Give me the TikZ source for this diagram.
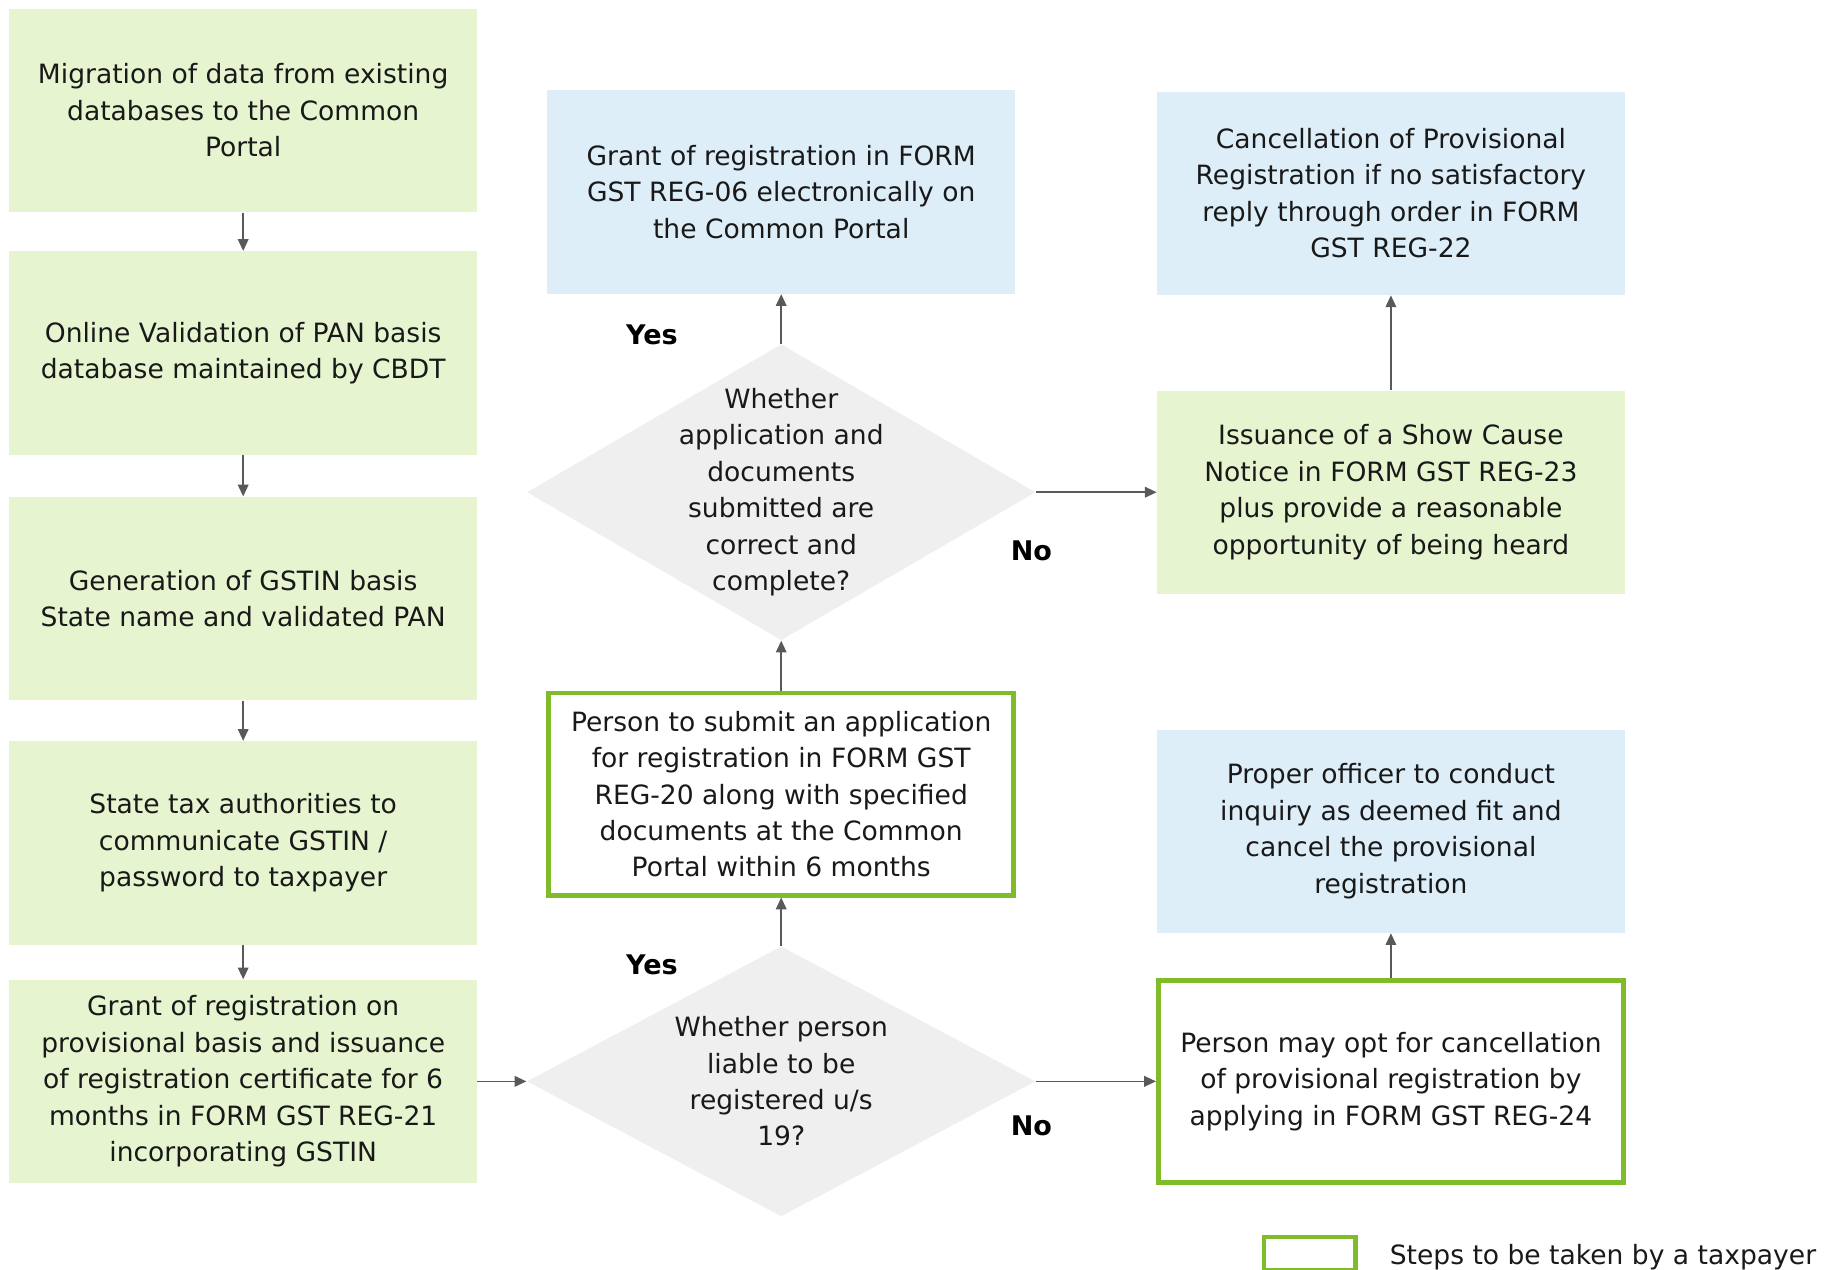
\documentclass[tikz,border=0pt]{standalone}
\usepackage{fontspec}
\setmainfont{DejaVu Sans}
\usetikzlibrary{shapes.geometric,arrows.meta}
\definecolor{stepgreen}{HTML}{E6F5CF}
\definecolor{stepblue}{HTML}{DEEEF9}
\definecolor{askgray}{HTML}{EFEFEF}
\definecolor{payline}{HTML}{80BC2A}
\definecolor{arrgray}{HTML}{595959}

\begin{document}
\begin{tikzpicture}[x=0.5pt,y=-0.5pt,
  txt/.style={align=center,text=black!90,font=\fontsize{11.3}{15.5}\selectfont},
  gbox/.style={txt,fill=stepgreen,minimum width=199pt,minimum height=86.5pt,inner sep=0pt},
  bbox/.style={gbox,fill=stepblue},
  pbox/.style={txt,draw=payline,line width=2pt,minimum width=198pt,minimum height=86pt,inner sep=0pt},
  ask/.style={diamond,fill=askgray,minimum width=216.5pt,inner sep=0pt},
  go/.style={draw=arrgray,line width=0.7pt,-{Triangle[length=5pt,width=4.5pt]}},
  yn/.style={font=\fontsize{11.5}{14}\selectfont\bfseries}]
\useasboundingbox (0,0) rectangle (1568,1081);

% left column
\node[gbox] (mig) at (207,94) {Migration of data from existing\\databases to the Common\\Portal};
\node[gbox] (pan) at (207,300.5) {Online Validation of PAN basis\\database maintained by CBDT};
\node[gbox] (gen) at (207,509.5) {Generation of GSTIN basis\\State name and validated PAN};
\node[gbox] (comm) at (207,717.5) {State tax authorities to\\communicate GSTIN /\\password to taxpayer};
\node[gbox] (prov) at (207,920.5) {Grant of registration on\\provisional basis and issuance\\of registration certificate for 6\\months in FORM GST REG-21\\incorporating GSTIN};
\draw[go] (mig) -- (pan); \draw[go] (pan) -- (gen); \draw[go] (gen) -- (comm); \draw[go] (comm) -- (prov);

% middle column
\node[bbox] (reg6) at (665,163.5) {Grant of registration in FORM\\GST REG-06 electronically on\\the Common Portal};
\node[ask,minimum height=126pt] (q1) at (665,419) {};
\node[txt] (q1t) at (q1) {Whether\\application and\\documents\\submitted are\\correct and\\complete?};
\node[pbox] (sub) at (665,676) {Person to submit an application\\for registration in FORM GST\\REG-20 along with specified\\documents at the Common\\Portal within 6 months};
\node[ask,minimum height=115pt] (q2) at (665,920.5) {};
\node[txt] (q2t) at (q2) {Whether person\\liable to be\\registered u/s\\19?};

% right column
\node[bbox] (reg22) at (1184,164.5) {Cancellation of Provisional\\Registration if no satisfactory\\reply through order in FORM\\GST REG-22};
\node[gbox] (reg23) at (1184,419) {Issuance of a Show Cause\\Notice in FORM GST REG-23\\plus provide a reasonable\\opportunity of being heard};
\node[bbox] (inq) at (1184,707.5) {Proper officer to conduct\\inquiry as deemed fit and\\cancel the provisional\\registration};
\node[pbox] (reg24) at (1184,920.5) {Person may opt for cancellation\\of provisional registration by\\applying in FORM GST REG-24};

\draw[go] (prov) -- (q2);
\draw[go] (q2.north) -- (sub.south);
\draw[go] (q2.east) -- (reg24.west);
\draw[go] (sub.north) -- (q1.south);
\draw[go] (q1.north) -- (reg6.south);
\draw[go] (q1.east) -- (reg23.west);
\draw[go] (reg23) -- (reg22);
\draw[go] (reg24) -- (inq);

\node[yn] (y1) at (555,285) {Yes};
\node[yn] (y2) at (555,821) {Yes};
\node[yn] (n1) at (878,469) {No};
\node[yn] (n2) at (878,958) {No};

% legend
\node[draw=payline,line width=2pt,minimum width=39pt,minimum height=14pt,inner sep=0pt] (key) at (1115,1067) {};
\node[txt,anchor=west] (keyt) at (1176,1070) {Steps to be taken by a taxpayer};
\end{tikzpicture}
\end{document}
